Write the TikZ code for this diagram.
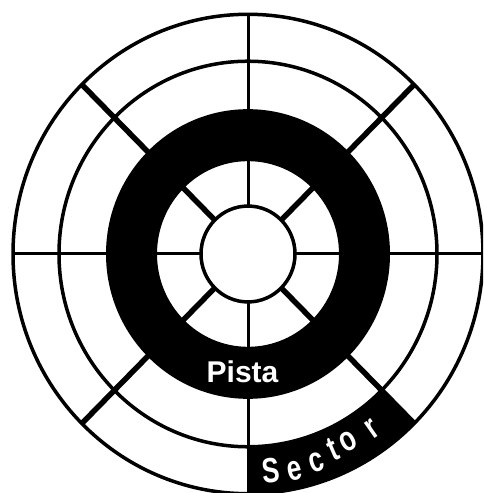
\documentclass[tikz,border=0pt]{standalone}
\usepackage{fontspec}
\setmainfont{Liberation Sans}
\newfontfamily\condfont[FakeStretch=0.75]{Liberation Sans}
\begin{document}
\begin{tikzpicture}[x=1pt,y=1pt,
  ringline/.style={line width=3.5pt},
  spoke/.style={line width=3pt},
  diag/.style={line width=5.5pt},
  pistalbl/.style={text=white,font=\bfseries\fontsize{30}{30}\selectfont,inner sep=0pt,anchor=base},
  sectlbl/.style={text=white,font=\condfont\bfseries\fontsize{35}{35}\selectfont,inner sep=0pt,anchor=base}]
\useasboundingbox (0,0) rectangle (483,493);
\clip (0,0) rectangle (483,493);
\begin{scope}[shift={(248,239)},yscale=1.02]
  % spokes
  \foreach \a in {0,90,180,270} \draw[spoke] (\a:47) -- (\a:235);
  \foreach \a in {45,135,225,315} \draw[diag] (\a:47) -- (\a:235);
  % track (black ring)
  \fill[even odd rule] (0,0) circle (142) (0,0) circle (91);
  % sector
  \fill (-90:188) arc[start angle=-90,end angle=-45,radius=188] -- (-45:236) arc[start angle=-45,end angle=-90,radius=236] -- cycle;
  % circles
  \draw[ringline] (0,0) circle (47);
  \draw[ringline] (0,0) circle (189);
  \draw[ringline] (0,0) circle (235);
\end{scope}
\node[pistalbl] (pista) at (242.5,110) {Pista};
\node[sectlbl,rotate=6]    (s1) at (272.5,10) {S};
\node[sectlbl,rotate=12]   (s2) at (296.5,13.5) {e};
\node[sectlbl,rotate=18]   (s3) at (319.5,21.5) {c};
\node[sectlbl,rotate=23.5] (s4) at (338,33) {t};
\node[sectlbl,rotate=28]   (s5) at (352.5,43.5) {o};
\node[sectlbl,rotate=35]   (s6) at (377.5,56.5) {r};
\end{tikzpicture}
\end{document}
